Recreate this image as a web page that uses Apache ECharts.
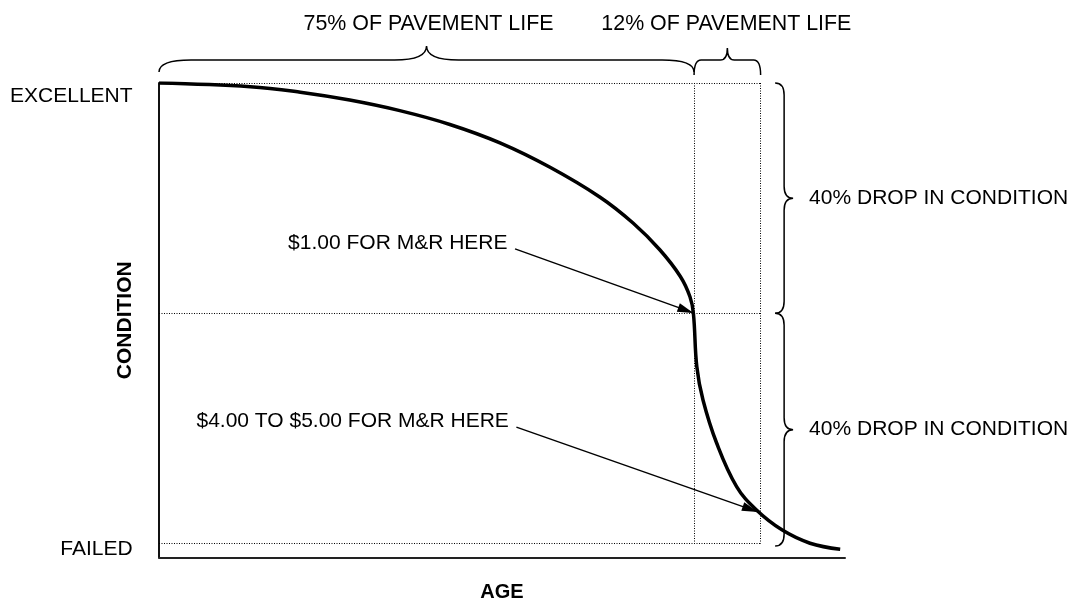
<!DOCTYPE html>
<html>
<head>
<meta charset="utf-8">
<script src="https://cdn.jsdelivr.net/npm/echarts@6/dist/echarts.min.js"></script>
<style>
  html, body { margin: 0; padding: 0; background: #fff; }
  #chart { width: 1074px; height: 601px; }
</style>
</head>
<body>
<div id="chart"></div>
<script>
// deterioration curve (age 0-100, condition 0-100)
const ageValues = [0, 13.3, 20.6, 27.8, 35.1, 42.4, 49.7, 57.0, 64.3, 69.1, 73.0, 76.0, 77.4, 77.9, 78.4, 79.3, 81.3, 84.2, 87.1, 90.8, 94.9, 99.3];
const conditionValues = [100, 99.2, 98.0, 96.3, 94.0, 91.0, 87.0, 81.7, 75.2, 69.6, 63.8, 58.0, 53.6, 50.0, 38.4, 31.2, 21.8, 12.4, 7.3, 3.0, 0.1, -1.2];

// guide lines
const ageMarks = [0, 78, 87.7];
const conditionMarks = [100, 50, 0];
const conditionTickLabels = ['EXCELLENT', 'FAILED'];

// braces and their texts
const lifeLabels = ['75% OF PAVEMENT LIFE', '12% OF PAVEMENT LIFE'];
const dropLabels = ['40% DROP IN CONDITION', '40% DROP IN CONDITION'];

// cost notes with arrows pointing at the curve
const costLabels = ['$1.00 FOR M&R HERE', '$4.00 TO $5.00 FOR M&R HERE'];
const arrowStarts = [[51.9, 64.0], [52.1, 25.3]];
const arrowEnds = [[77.9, 50.1], [87.3, 6.9]];

const FONT = '"Liberation Sans", Arial, sans-serif';

const chart = echarts.init(document.getElementById('chart'));

// curly brace between pixel points a and b, tip pointing along n
function bracePath(a, b, n, hEnd, hTip, r) {
    const len = Math.hypot(b[0] - a[0], b[1] - a[1]);
    const u = [(b[0] - a[0]) / len, (b[1] - a[1]) / len];
    const m = [(a[0] + b[0]) / 2, (a[1] + b[1]) / 2];
    const p = (base, du, dn) => (base[0] + u[0] * du + n[0] * dn) + ' ' + (base[1] + u[1] * du + n[1] * dn);
    return 'M' + p(a, 0, -hEnd) +
        ' Q' + p(a, 0, 0) + ' ' + p(a, r, 0) +
        ' L' + p(m, -r, 0) +
        ' Q' + p(m, 0, 0) + ' ' + p(m, 0, hTip) +
        ' Q' + p(m, 0, 0) + ' ' + p(m, r, 0) +
        ' L' + p(b, -r, 0) +
        ' Q' + p(b, 0, 0) + ' ' + p(b, 0, -hEnd);
}

const lifeSpans = [[ageMarks[0], ageMarks[1]], [ageMarks[1], ageMarks[2]]];
const dropSpans = [[conditionMarks[0], conditionMarks[1]], [conditionMarks[1], conditionMarks[2] - 0.5]];

function renderLifeBrace(params, api) {
    const a = api.coord([api.value(0), conditionMarks[0]]);
    const b = api.coord([api.value(1), conditionMarks[0]]);
    a[1] -= 23; b[1] -= 23;
    const big = b[0] - a[0] > 100;
    const r = big ? 32 : 7;
    return {
        type: 'group',
        children: [{
            type: 'path',
            shape: { pathData: bracePath(a, b, [0, -1], big ? 12 : 15, big ? 14 : 12, r) },
            style: { fill: 'none', stroke: '#000', lineWidth: 1.5 }
        }, {
            type: 'text',
            style: {
                text: lifeLabels[params.dataIndex],
                x: (a[0] + b[0]) / 2 + (big ? 2 : -1), y: a[1] - 36,
                align: 'center', verticalAlign: 'middle',
                font: '21.4px ' + FONT, fill: '#000'
            }
        }]
    };
}

function renderDropBrace(params, api) {
    const a = api.coord([ageMarks[2], api.value(0)]);
    const b = api.coord([ageMarks[2], api.value(1)]);
    a[0] += 23.5; b[0] += 23.5;
    return {
        type: 'group',
        children: [{
            type: 'path',
            shape: { pathData: bracePath(a, b, [1, 0], 9, 9, 12) },
            style: { fill: 'none', stroke: '#000', lineWidth: 1.5 }
        }, {
            type: 'text',
            style: {
                text: dropLabels[params.dataIndex],
                x: a[0] + 25, y: (a[1] + b[1]) / 2,
                align: 'left', verticalAlign: 'middle',
                font: '21px ' + FONT, fill: '#000'
            }
        }]
    };
}

const guideLines = [];
conditionMarks.forEach(c => guideLines.push([{ coord: [ageMarks[0], c] }, { coord: [ageMarks[2], c] }]));
ageMarks.slice(1).forEach(a => guideLines.push([{ coord: [a, conditionMarks[0]] }, { coord: [a, conditionMarks[2]] }]));

const arrowLines = arrowStarts.map((s, i) => [
    { coord: s, name: costLabels[i], symbol: 'none' },
    { coord: arrowEnds[i], symbol: 'triangle', symbolSize: [9, 16], symbolOffset: [0, 8] }
]);

let option = {
    animation: false,
    grid: {
        left: 159,
        right: 229,
        top: 83,
        bottom: 43.5,
        outerBoundsMode: 'none'
    },
    xAxis: {
        type: 'value',
        min: 0,
        max: 100,
        name: 'AGE',
        nameLocation: 'middle',
        nameGap: 25,
        nameTextStyle: { fontFamily: FONT, fontSize: 20, fontWeight: 'bold', color: '#000' },
        axisLine: { show: true, onZero: false, lineStyle: { color: '#222', width: 2 } },
        axisTick: { show: false },
        axisLabel: { show: false },
        splitLine: { show: false }
    },
    yAxis: {
        type: 'value',
        min: -3,
        max: 100,
        name: 'CONDITION',
        nameLocation: 'middle',
        nameGap: 23,
        nameTextStyle: { fontFamily: FONT, fontSize: 21, fontWeight: 'bold', color: '#000' },
        axisLine: { show: true, onZero: false, lineStyle: { color: '#111', width: 2 } },
        axisTick: { show: false },
        axisLabel: { show: false },
        splitLine: { show: false }
    },
    graphic: [
        {
            type: 'text', x: 132.6, y: 96.7,
            style: { text: conditionTickLabels[0], align: 'right', verticalAlign: 'middle', font: '21px ' + FONT, fill: '#000' }
        },
        {
            type: 'text', x: 132.6, y: 549.3,
            style: { text: conditionTickLabels[1], align: 'right', verticalAlign: 'middle', font: '21px ' + FONT, fill: '#000' }
        }
    ],
    series: [
        {
            // dotted guides
            type: 'line',
            data: [],
            silent: true,
            markLine: {
                silent: true,
                symbol: 'none',
                label: { show: false },
                lineStyle: { type: [1, 1.5], width: 1, color: '#000' },
                data: guideLines
            }
        },
        {
            // arrows + cost notes
            type: 'line',
            data: [],
            silent: true,
            markLine: {
                silent: true,
                label: {
                    show: true,
                    position: 'start',
                    distance: [8, 18],
                    formatter: '{b}',
                    fontFamily: FONT,
                    fontSize: 21,
                    color: '#000'
                },
                lineStyle: { type: 'solid', width: 1.5, color: '#000' },
                itemStyle: { color: '#000' },
                data: arrowLines
            }
        },
        {
            type: 'line',
            data: ageValues.map((a, i) => [a, conditionValues[i]]),
            smooth: 0.4,
            showSymbol: false,
            lineStyle: { color: '#000', width: 3.5 },
            z: 5
        },
        {
            type: 'custom',
            renderItem: renderLifeBrace,
            data: lifeSpans,
            encode: { x: [0, 1] },
            clip: false,
            silent: true
        },
        {
            type: 'custom',
            renderItem: renderDropBrace,
            data: dropSpans,
            encode: { y: [0, 1] },
            clip: false,
            silent: true
        }
    ]
};

chart.setOption(option);
</script>
</body>
</html>
